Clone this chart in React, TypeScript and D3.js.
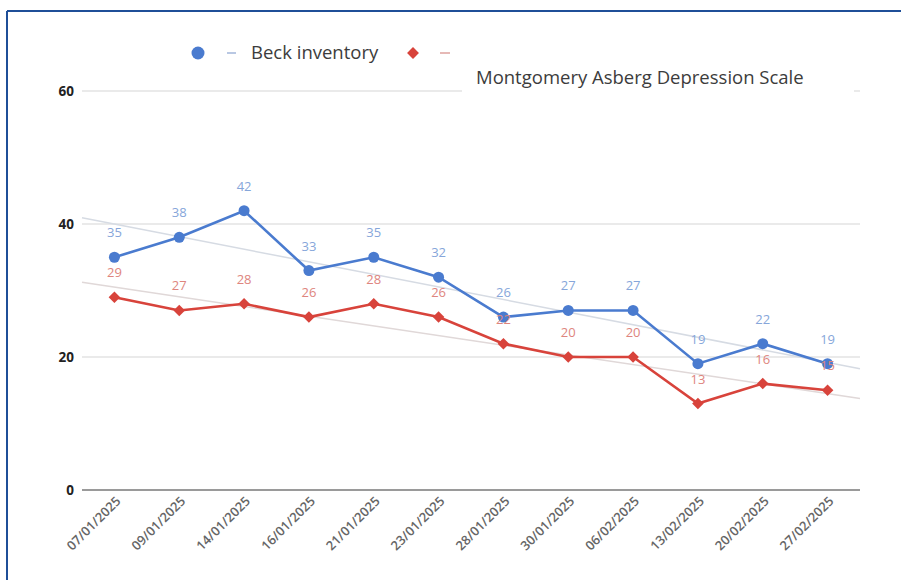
import React from "react";
import * as d3 from "d3";

const dates = ["07/01/2025","09/01/2025","14/01/2025","16/01/2025","21/01/2025","23/01/2025","28/01/2025","30/01/2025","06/02/2025","13/02/2025","20/02/2025","27/02/2025"];
const beck = [35,38,42,33,35,32,26,27,27,19,22,19];
const madrs = [29,27,28,26,28,26,22,20,20,13,16,15];
const yTicks = [0,20,40,60];
const seriesNames = ["Beck inventory", "Montgomery Asberg Depression Scale"];

const W = 901, H = 580;
const left = 82, right = 860, top = 91, bottom = 490;
const BLUE = "#4a7bcf";
const RED = "#d8433b";
const BLUE_LBL = "#86a6da";
const RED_LBL = "#de857e";

function regression(vals: number[]) {
  const mx = d3.mean(vals.map((_, i) => i))!;
  const my = d3.mean(vals)!;
  let sxy = 0, sxx = 0;
  vals.forEach((v, i) => { sxy += (i - mx) * (v - my); sxx += (i - mx) * (i - mx); });
  const b = sxy / sxx;
  return (x: number) => my + b * (x - mx);
}

export default function App() {
  const x = d3.scaleBand<string>().domain(dates).range([left, right]);
  const cx = (i: number) => x(dates[i])! + x.bandwidth() / 2;
  const y = d3.scaleLinear().domain([0, 60]).range([bottom, top]);
  const line = d3.line<number>().x((_, i) => cx(i)).y(d => y(d));
  const font = "'Open Sans', Roboto, sans-serif";

  const trend = (vals: number[]) => {
    const f = regression(vals);
    const x0 = -0.5, x1 = vals.length - 0.5;
    const px = (t: number) => left + (t + 0.5) * x.bandwidth();
    return { x1: px(x0), y1: y(f(x0)), x2: px(x1), y2: y(f(x1)) };
  };
  const tb = trend(beck), tm = trend(madrs);
  const diamond = d3.symbol().type(d3.symbolDiamond2).size(85)();

  return (
    <svg width={W} height={H} style={{ position: "absolute", left: 0, top: 0, background: "#fff" }} fontFamily={font}>
      <rect x={0} y={0} width={W} height={H} fill="#fff" />
      {/* frame */}
      <line x1={7} y1={11} x2={W} y2={11} stroke="#1f4f98" strokeWidth={2} />
      <line x1={7} y1={11} x2={7} y2={H} stroke="#1f4f98" strokeWidth={2} />

      {/* gridlines */}
      {yTicks.filter(t => t > 0).map(t => (
        <line key={t} x1={left} x2={right} y1={y(t)} y2={y(t)} stroke="#e3e3e3" strokeWidth={1.3} />
      ))}
      <line x1={left} x2={right} y1={y(0)} y2={y(0)} stroke="#9a9a9a" strokeWidth={2} />
      {yTicks.map(t => (
        <text key={t} x={74} y={y(t)} dy="0.35em" textAnchor="end" fontSize={13.5} fontWeight={700} fill="#222">{t}</text>
      ))}

      {/* trendlines */}
      <line {...tb} stroke="#d6dbe3" strokeWidth={1.5} />
      <line {...tm} stroke="#e0d8d8" strokeWidth={1.5} />

      {/* lines */}
      <path d={line(beck)!} fill="none" stroke={BLUE} strokeWidth={2.6} />
      <path d={line(madrs)!} fill="none" stroke={RED} strokeWidth={2.6} />
      {beck.map((v, i) => <circle key={i} cx={cx(i)} cy={y(v)} r={5.5} fill={BLUE} />)}
      {madrs.map((v, i) => <path key={i} d={diamond!} transform={`translate(${cx(i)},${y(v)})`} fill={RED} />)}

      {/* data labels */}
      {beck.map((v, i) => (
        <text key={i} x={cx(i)} y={y(v) - 20} textAnchor="middle" fontSize={13} fill={BLUE_LBL}>{v}</text>
      ))}
      {madrs.map((v, i) => (
        <text key={i} x={cx(i)} y={y(v) - 20} textAnchor="middle" fontSize={13} fill={RED_LBL}>{v}</text>
      ))}

      {/* x labels */}
      {dates.map((d, i) => (
        <text key={d} transform={`translate(${cx(i) + 7},${bottom + 12}) rotate(-45)`} textAnchor="end" fontSize={13} fontWeight={600} fill="#666">{d}</text>
      ))}

      {/* legend */}
      <circle cx={198} cy={53} r={6.5} fill={BLUE} />
      <line x1={227} x2={236} y1={53} y2={53} stroke="#b9c8e3" strokeWidth={2} />
      <text x={251} y={53} dy="0.35em" fontSize={18.5} fontWeight={500} fill="#3c3c3c">{seriesNames[0]}</text>
      <path d={d3.symbol().type(d3.symbolDiamond2).size(90)()!} transform="translate(413,53)" fill={RED} />
      <line x1={440} x2={450} y1={53} y2={53} stroke="#e6b9b6" strokeWidth={2} />
      <rect x={462} y={64} width={392} height={30} fill="#fff" />
      <text x={476} y={78} dy="0.35em" fontSize={18.5} fontWeight={500} fill="#3c3c3c">{seriesNames[1]}</text>
    </svg>
  );
}
